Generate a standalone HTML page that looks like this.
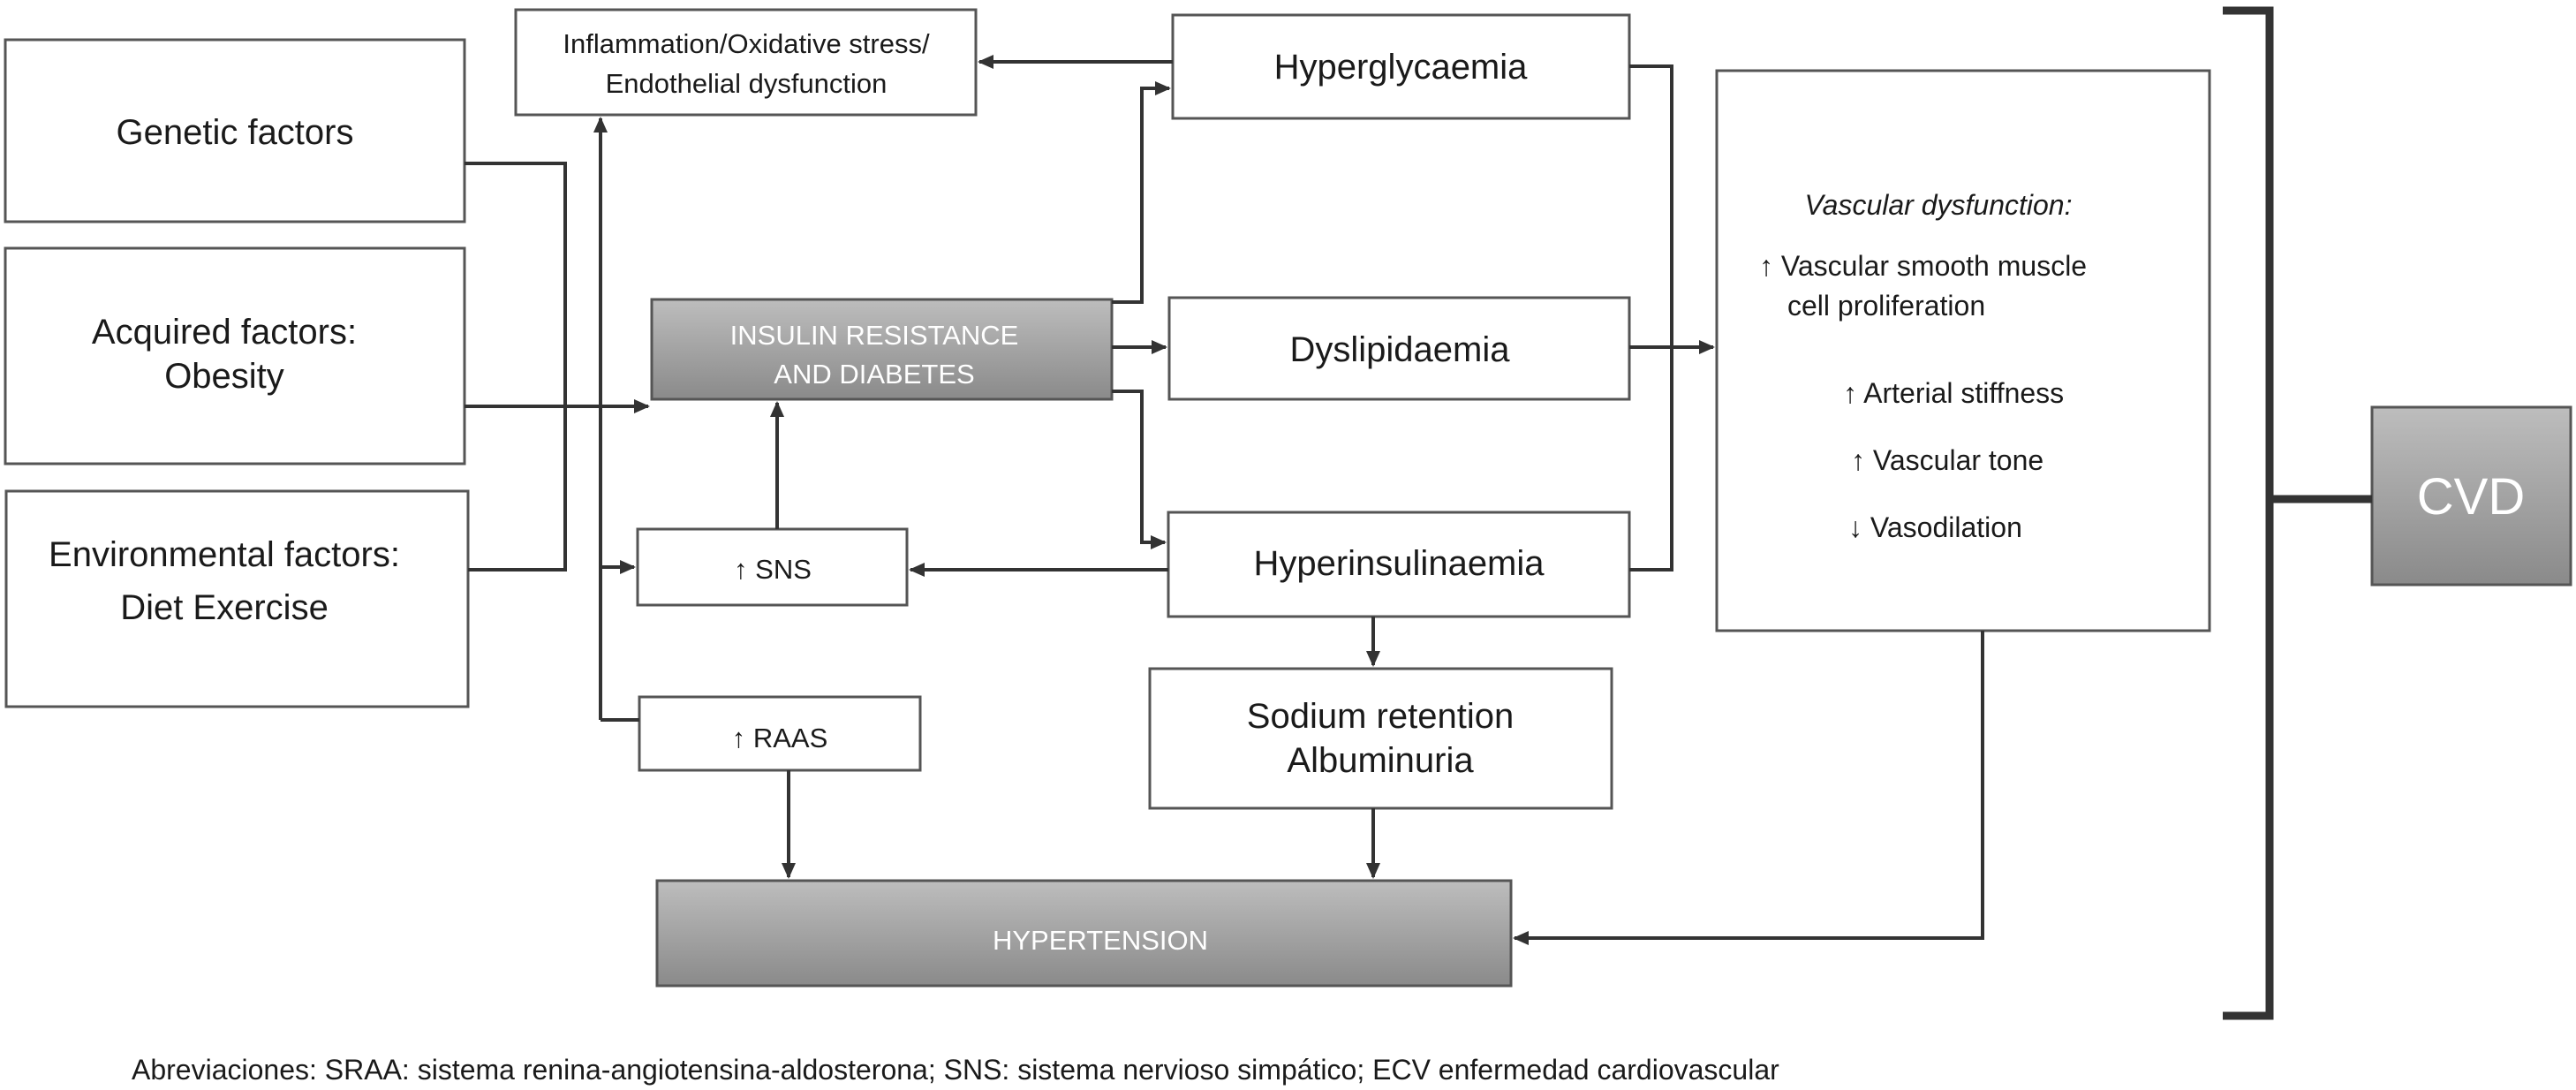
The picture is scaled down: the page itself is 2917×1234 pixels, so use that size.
<!DOCTYPE html>
<html><head><meta charset="utf-8"><style>
html,body{margin:0;padding:0;background:#fff;}
svg{display:block;}
text{font-family:"Liberation Sans",Arial,sans-serif;fill:#1a1a1a;}
</style></head><body>
<svg width="2917" height="1234" viewBox="0 0 2917 1234" xmlns="http://www.w3.org/2000/svg">
<defs>
<linearGradient id="g" x1="0" y1="0" x2="0" y2="1"><stop offset="0" stop-color="#bdbdbd"/><stop offset="1" stop-color="#8a8a8a"/></linearGradient>
<marker id="a" markerWidth="4.5" markerHeight="4" refX="4" refY="2" orient="auto" markerUnits="strokeWidth"><path d="M0,0 L4.5,2 L0,4 z" fill="#333"/></marker>
</defs>
<g fill="#fff" stroke="#555" stroke-width="3">
<rect x="6" y="45" width="520" height="206"/>
<rect x="6" y="281" width="520" height="244"/>
<rect x="7" y="556" width="523" height="244"/>
<rect x="584" y="11" width="521" height="119"/>
<rect x="1328" y="17" width="517" height="117"/>
<rect x="738" y="339" width="521" height="113" fill="url(#g)"/>
<rect x="1324" y="337" width="521" height="115"/>
<rect x="722" y="599" width="305" height="86"/>
<rect x="1323" y="580" width="522" height="118"/>
<rect x="724" y="789" width="318" height="83"/>
<rect x="1302" y="757" width="523" height="158"/>
<rect x="744" y="997" width="967" height="119" fill="url(#g)"/>
<rect x="1944" y="80" width="558" height="634"/>
<rect x="2686" y="461" width="225" height="201" fill="url(#g)"/>
</g>
<g fill="none" stroke="#333" stroke-width="4">
<polyline points="526,185 640,185 640,645 530,645"/>
<line x1="526" y1="460" x2="734" y2="460" marker-end="url(#a)"/>
<line x1="680" y1="815" x2="680" y2="134" marker-end="url(#a)"/>
<polyline points="680,815 724,815"/>
<line x1="680" y1="642" x2="718" y2="642" marker-end="url(#a)"/>
<line x1="1328" y1="70" x2="1109" y2="70" marker-end="url(#a)"/>
<polyline points="1259,342 1293,342 1293,100 1324,100" marker-end="url(#a)"/>
<line x1="1259" y1="393" x2="1320" y2="393" marker-end="url(#a)"/>
<polyline points="1259,443 1293,443 1293,614 1319,614" marker-end="url(#a)"/>
<line x1="1323" y1="645" x2="1031" y2="645" marker-end="url(#a)"/>
<line x1="880" y1="599" x2="880" y2="456" marker-end="url(#a)"/>
<line x1="1555" y1="698" x2="1555" y2="753" marker-end="url(#a)"/>
<line x1="1555" y1="915" x2="1555" y2="993" marker-end="url(#a)"/>
<line x1="893" y1="872" x2="893" y2="993" marker-end="url(#a)"/>
<polyline points="1845,75 1893,75 1893,645 1845,645"/>
<line x1="1845" y1="393" x2="1940" y2="393" marker-end="url(#a)"/>
<polyline points="2245,714 2245,1062 1715,1062" marker-end="url(#a)"/>
<polyline points="2517,12 2570,12 2570,1150 2517,1150" stroke-width="9"/>
<line x1="2570" y1="565" x2="2686" y2="565" stroke-width="9"/>
</g>
<g font-size="40" text-anchor="middle">
<text x="266" y="163">Genetic factors</text>
<text x="254" y="389">Acquired factors:</text>
<text x="254" y="439">Obesity</text>
<text x="254" y="641">Environmental factors:</text>
<text x="254" y="701">Diet Exercise</text>
<text x="1586" y="89">Hyperglycaemia</text>
<text x="1585" y="409">Dyslipidaemia</text>
<text x="1584" y="651">Hyperinsulinaemia</text>
<text x="1563" y="824">Sodium retention</text>
<text x="1563" y="874">Albuminuria</text>
</g>
<g font-size="31" text-anchor="middle">
<text x="845" y="60">Inflammation/Oxidative stress/</text>
<text x="845" y="105">Endothelial dysfunction</text>
<text x="990" y="390" style="fill:#fff">INSULIN RESISTANCE</text>
<text x="990" y="434" style="fill:#fff">AND DIABETES</text>
<text x="875" y="655">↑ SNS</text>
<text x="883" y="846">↑ RAAS</text>
<text x="1246" y="1075" style="fill:#fff">HYPERTENSION</text>
</g>
<text x="2798" y="582" font-size="58" text-anchor="middle" style="fill:#fff">CVD</text>
<g font-size="32">
<text x="2195" y="243" text-anchor="middle" font-style="italic">Vascular dysfunction:</text>
<text x="1992" y="312">↑ Vascular smooth muscle</text>
<text x="2024" y="357">cell proliferation</text>
<text x="2087" y="456">↑ Arterial stiffness</text>
<text x="2096" y="532">↑ Vascular tone</text>
<text x="2093" y="608">↓ Vasodilation</text>
</g>
<text x="149" y="1222" font-size="32">Abreviaciones: SRAA: sistema renina-angiotensina-aldosterona; SNS: sistema nervioso simpático; ECV enfermedad cardiovascular</text>
</svg>
</body></html>
